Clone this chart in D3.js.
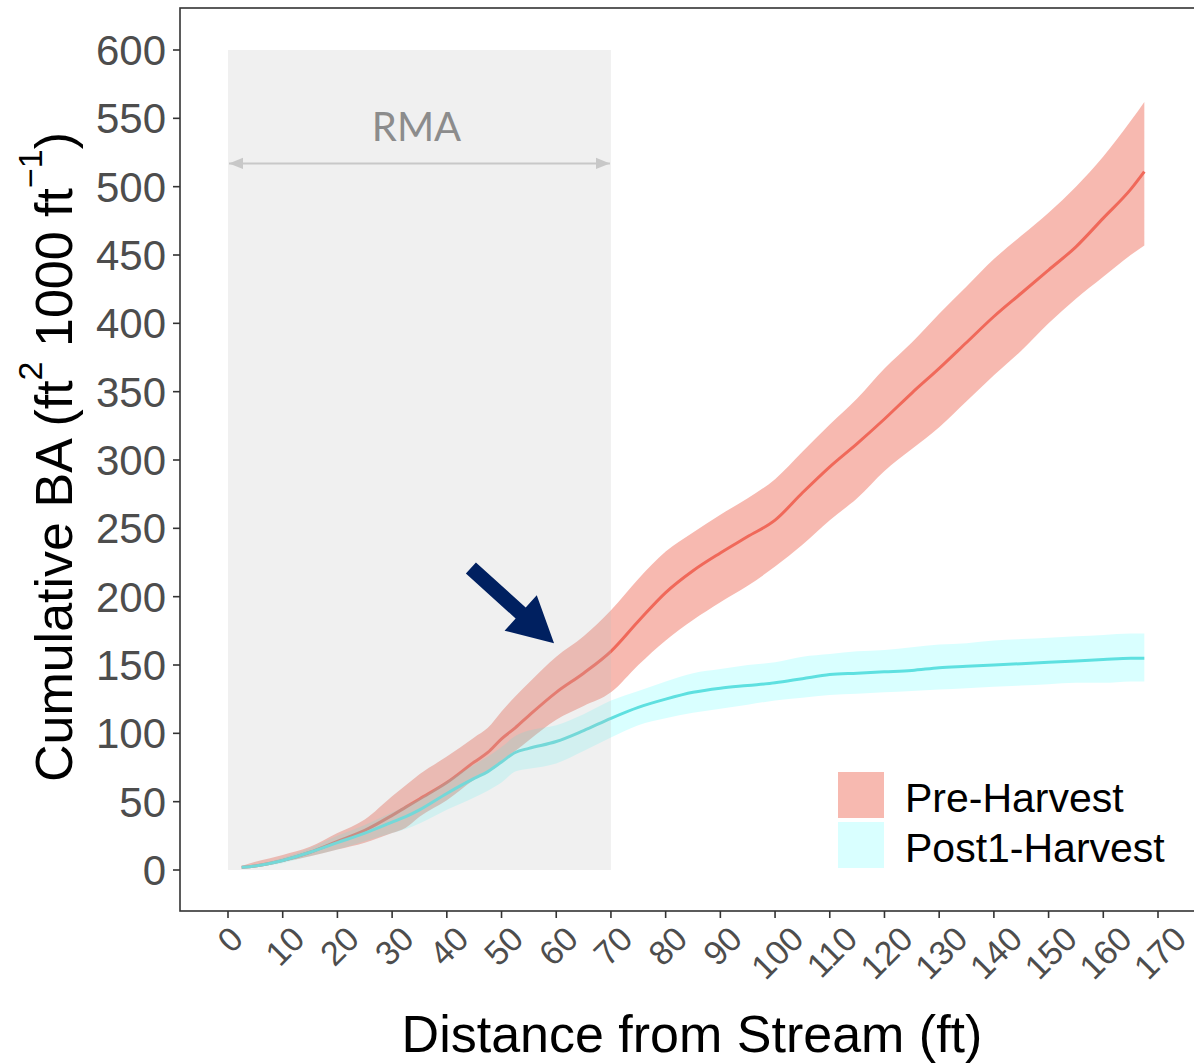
<!DOCTYPE html>
<html>
<head>
<meta charset="utf-8">
<script src="https://cdn.jsdelivr.net/npm/d3@7"></script>
<style>
  html, body { margin: 0; padding: 0; background: #fff; }
  svg { display: block; font-family: Arial, "Liberation Sans", sans-serif; }
</style>
</head>
<body>
<svg id="chart" width="1194" height="1063"></svg>
<script>
// distance from stream (ft)
const dist = [2.5, 5, 10, 15, 20, 25, 30, 32.5, 35, 40, 45, 47.5, 50, 52.5, 55, 60, 65, 70, 75, 80,
  85, 90, 95, 100, 105, 110, 115, 120, 125, 130, 135, 140, 145, 150, 155, 160, 165, 167.5];

// Pre-Harvest cumulative BA: mean, lower, upper
const preMean = [2, 3, 7, 13, 21, 29, 40, 46, 52, 64, 79, 86, 96, 104, 113, 130, 144, 160, 182, 203,
  219, 232, 244, 256, 276, 295, 312, 330, 349, 367, 386, 405, 422, 439, 456, 477, 498, 511];
const preLo = [1, 3, 6, 10, 15, 20, 27, 31, 39, 51, 66, 72, 80, 87, 95, 110, 120, 130, 150, 168,
  183, 196, 208, 222, 238, 256, 272, 292, 308, 324, 343, 362, 380, 400, 418, 434, 450, 457];
const preHi = [3, 6, 11, 17, 27, 37, 54, 62, 70, 83, 97, 104, 116, 127, 137, 156, 171, 190, 213, 233,
  247, 260, 272, 286, 306, 326, 345, 367, 386, 407, 427, 447, 464, 481, 500, 522, 548, 562];

// Post1-Harvest cumulative BA: mean, lower, upper
const postMean = [2, 3, 7, 13, 20, 27, 35, 39, 44, 56, 67, 72, 79, 86, 89, 94, 102, 111, 119, 125,
  130, 133, 135, 137, 140, 143, 144, 145, 146, 148, 149, 150, 151, 152, 153, 154, 155, 155];
const postLo = [1, 2, 5, 10, 15, 21, 27, 30, 34, 44, 53, 58, 64, 72, 74, 78, 87, 97, 106, 111,
  115, 118, 121, 124, 126, 128, 129, 130, 131, 132, 133, 134, 135, 136, 137, 137, 138, 138];
const postHi = [3, 4, 9, 16, 25, 33, 42, 47, 52, 65, 77, 83, 90, 98, 102, 106, 114, 124, 131, 138,
  144, 147, 150, 152, 156, 158, 160, 161, 163, 165, 166, 168, 169, 170, 171, 172, 173, 173];

const xTicks = d3.range(0, 171, 10);
const yTicks = d3.range(0, 601, 50);
const seriesNames = ["Pre-Harvest", "Post1-Harvest"];

// annotations (data units)
const rmaRange = [0, 70];
const rmaArrowY = 517;
const callout = { x0: 44.4, y0: 221, x1: 59.6, y1: 166 };

const svg = d3.select("#chart");
const panel = { left: 180, top: 8, right: 1196, bottom: 911 };

const x = d3.scaleLinear().domain([0, 170]).range([228, 1158]);
const y = d3.scaleLinear().domain([0, 600]).range([870, 50]);

const preFill = "#f08070", preLine = "#f0695a";
const postFill = "#00ffff", postLine = "#5ee0e0";

const preData = dist.map((d, i) => ({ x: d, m: preMean[i], lo: preLo[i], hi: preHi[i] }));
const postData = dist.map((d, i) => ({ x: d, m: postMean[i], lo: postLo[i], hi: postHi[i] }));

const area = d3.area().x(d => x(d.x)).y0(d => y(d.lo)).y1(d => y(d.hi)).curve(d3.curveMonotoneX);
const line = d3.line().x(d => x(d.x)).y(d => y(d.m)).curve(d3.curveMonotoneX);

// ribbons and lines
svg.append("path").datum(preData).attr("d", area)
  .attr("fill", preFill).attr("fill-opacity", 0.55);
svg.append("path").datum(preData).attr("d", line)
  .attr("fill", "none").attr("stroke", preLine).attr("stroke-width", 3);
svg.append("path").datum(postData).attr("d", area)
  .attr("fill", postFill).attr("fill-opacity", 0.15);
svg.append("path").datum(postData).attr("d", line)
  .attr("fill", "none").attr("stroke", postLine).attr("stroke-width", 3);

// riparian management area shading
svg.append("rect")
  .attr("x", x(rmaRange[0])).attr("y", y(600))
  .attr("width", x(rmaRange[1]) - x(rmaRange[0]))
  .attr("height", y(0) - y(600))
  .attr("fill", "#bebebe").attr("fill-opacity", 0.23);

// double arrow
const defs = svg.append("defs");
defs.append("marker").attr("id", "ah").attr("viewBox", "0 0 10 10")
  .attr("refX", 10).attr("refY", 5).attr("markerWidth", 7).attr("markerHeight", 7)
  .attr("markerUnits", "strokeWidth")
  .attr("orient", "auto-start-reverse")
  .append("path").attr("d", "M0,1 L10,5 L0,9 Z").attr("fill", "#c8c8c8");
svg.append("line")
  .attr("x1", x(rmaRange[0]) + 1).attr("x2", x(rmaRange[1]) - 1)
  .attr("y1", y(rmaArrowY)).attr("y2", y(rmaArrowY))
  .attr("stroke", "#c8c8c8").attr("stroke-width", 2)
  .attr("marker-start", "url(#ah)").attr("marker-end", "url(#ah)");
svg.append("text")
  .attr("x", x((rmaRange[0] + rmaRange[1]) / 2) - 3).attr("y", 141)
  .attr("text-anchor", "middle")
  .style("font-family", "Lato, 'Open Sans', sans-serif")
  .style("font-size", "40px").attr("fill", "#8c8c8c")
  .text("RMA");

// navy callout arrow
{
  const sx = x(callout.x0), sy = y(callout.y0), ex = x(callout.x1), ey = y(callout.y1);
  const L = Math.hypot(ex - sx, ey - sy);
  const ang = Math.atan2(ey - sy, ex - sx) * 180 / Math.PI;
  const hl = 45, sw = 7.5, hw = 24;
  const pts = [[0, -sw], [L - hl, -sw], [L - hl, -hw], [L, 0], [L - hl, hw], [L - hl, sw], [0, sw]];
  svg.append("polygon")
    .attr("points", pts.map(p => p.join(",")).join(" "))
    .attr("transform", `translate(${sx},${sy}) rotate(${ang})`)
    .attr("fill", "#002060");
}

// panel border
svg.append("rect")
  .attr("x", panel.left).attr("y", panel.top)
  .attr("width", panel.right - panel.left).attr("height", panel.bottom - panel.top)
  .attr("fill", "none").attr("stroke", "#333").attr("stroke-width", 1.6);

// y axis
const yAxis = svg.append("g");
yTicks.forEach(t => {
  yAxis.append("line").attr("x1", panel.left - 7).attr("x2", panel.left)
    .attr("y1", y(t)).attr("y2", y(t)).attr("stroke", "#333").attr("stroke-width", 1.6);
  yAxis.append("text").attr("x", 166).attr("y", y(t)).attr("dy", "0.36em")
    .attr("text-anchor", "end").attr("fill", "#4d4d4d")
    .style("font-size", "42px").text(t);
});

// x axis
const xAxis = svg.append("g");
xTicks.forEach(t => {
  xAxis.append("line").attr("x1", x(t)).attr("x2", x(t))
    .attr("y1", panel.bottom).attr("y2", panel.bottom + 7)
    .attr("stroke", "#333").attr("stroke-width", 1.6);
  const fs = 34;
  const txt = xAxis.append("text")
    .attr("text-anchor", "middle").attr("dy", "0.35em")
    .attr("fill", "#4d4d4d").style("font-size", fs + "px").text(t);
  const w = txt.node().getComputedTextLength();
  const h = 0.72 * fs;
  const bh = (w + h) / Math.SQRT2;
  txt.attr("transform", `translate(${x(t) + 2},${924 + bh / 2}) rotate(-45)`);
});

// axis titles
svg.append("text")
  .attr("x", 692).attr("y", 1052).attr("text-anchor", "middle")
  .attr("fill", "#000").style("font-size", "52px")
  .text("Distance from Stream (ft)");

const yt = svg.append("text")
  .attr("transform", `translate(72,457) rotate(-90)`)
  .attr("text-anchor", "middle").attr("fill", "#000").style("font-size", "52px");
yt.append("tspan").text("Cumulative BA (ft");
yt.append("tspan").attr("dy", -30).style("font-size", "34px").text("2");
yt.append("tspan").attr("dy", 30).text(" 1000 ft");
yt.append("tspan").attr("dy", -30).style("font-size", "34px").text("\u22121");
yt.append("tspan").attr("dy", 30).text(")");

// legend
const legend = svg.append("g");
const keyFills = [
  { fill: preFill, op: 0.55 },
  { fill: postFill, op: 0.15 }
];
seriesNames.forEach((name, i) => {
  const ky = 772 + i * 50;
  legend.append("rect").attr("x", 838).attr("y", ky).attr("width", 46).attr("height", 46)
    .attr("fill", keyFills[i].fill).attr("fill-opacity", keyFills[i].op);
  legend.append("text").attr("x", 905).attr("y", ky + 40)
    .attr("fill", "#000").style("font-size", "41px").text(name);
});
</script>
</body>
</html>
